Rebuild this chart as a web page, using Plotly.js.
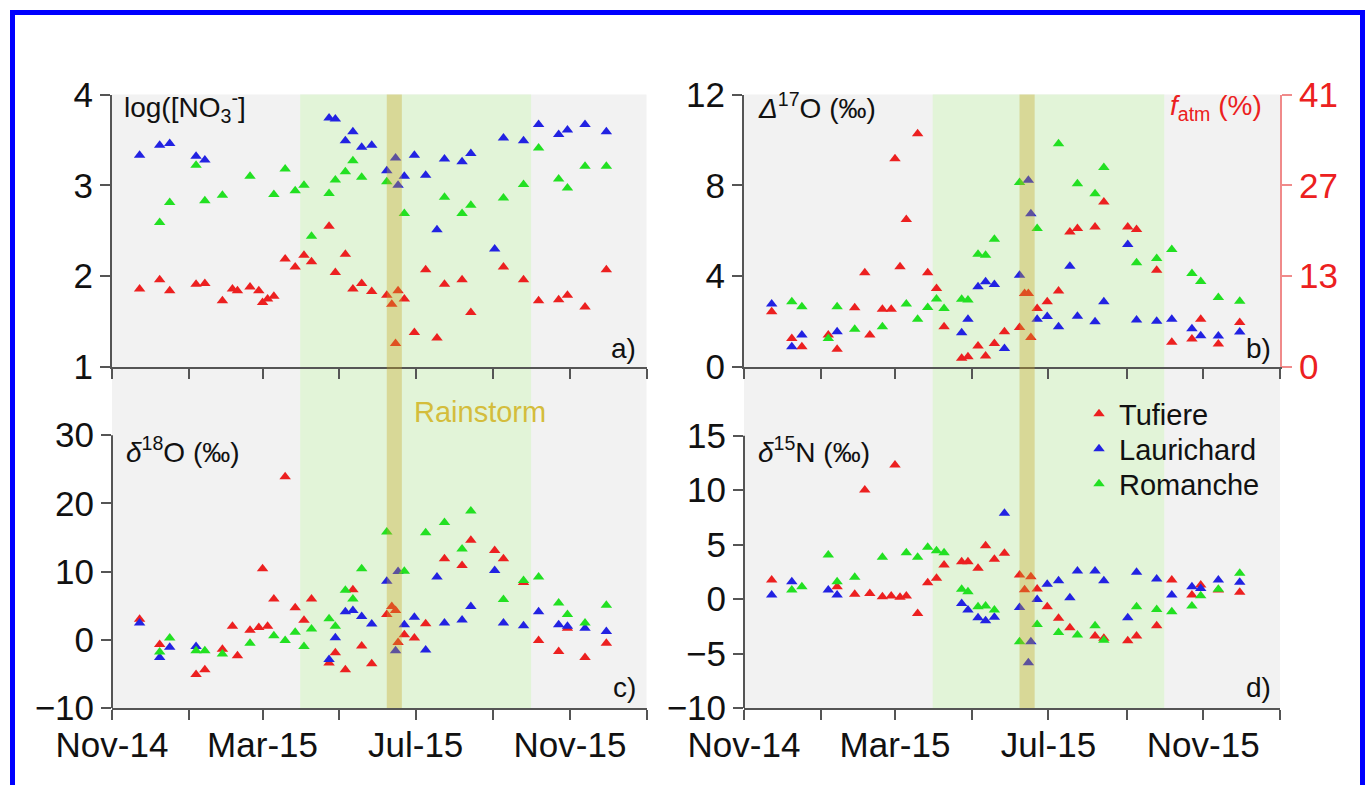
<!DOCTYPE html>
<html>
<head>
<meta charset="utf-8">
<script src="https://cdn.plot.ly/plotly-3.0.1.min.js"></script>
<style>
html,body{margin:0;padding:0;background:#fff;}
#chart{width:1369px;height:785px;}
</style>
</head>
<body>
<div id="chart"></div>
<script>
// Sampling dates (shared by all sites and panels)
const dates = ['2014-11-23','2014-12-09','2014-12-17','2015-01-07','2015-01-14','2015-01-28','2015-02-05','2015-02-09','2015-02-19','2015-02-26',
  '2015-03-01','2015-03-05','2015-03-10','2015-03-19','2015-03-27','2015-04-03','2015-04-09','2015-04-23','2015-04-28','2015-05-06',
  '2015-05-12','2015-05-19','2015-05-27','2015-06-08','2015-06-12','2015-06-15','2015-06-17','2015-06-22','2015-06-30','2015-07-09',
  '2015-07-18','2015-07-24','2015-08-07','2015-08-14','2015-09-02','2015-09-09','2015-09-25','2015-10-07','2015-10-23','2015-10-30',
  '2015-11-13','2015-11-30'];
const sites = ['Tufiere','Laurichard','Romanche'];

// a) log([NO3-])
const tufA = [1.86,1.96,1.84,1.91,1.92,1.73,1.86,1.84,1.88,1.84, 1.71,1.75,1.78,2.19,2.10,2.23,2.16,2.55,2.04,2.24, 1.86,1.92,1.83,1.79,1.69,1.26,1.84,1.75,1.38,2.07, 1.32,1.91,1.96,1.60,null,2.10,1.96,1.73,1.74,1.79, 1.66,2.07];
const lauA = [3.33,3.44,3.46,3.32,3.28,null,null,null,null,null, null,null,null,null,null,null,null,3.74,3.73,3.49, 3.59,3.42,3.44,3.16,null,3.30,3.00,3.10,3.33,3.11, 2.51,3.29,3.26,3.35,2.30,3.52,3.49,3.67,3.56,3.61, 3.67,3.59];
const romA = [null,2.59,2.81,3.22,2.83,2.89,null,null,3.10,null, null,null,2.90,3.18,2.94,3.00,2.44,2.91,3.06,3.15, 3.27,3.09,null,3.04,null,null,null,2.69,null,null, null,2.87,2.69,2.78,null,2.86,3.01,3.41,3.07,2.97, 3.21,3.21];

// b) Δ17O (‰)
const tufB = [2.43,1.26,0.89,1.41,0.78,2.61,4.15,1.41,2.54,2.54, 9.17,4.41,6.49,10.27,4.15,3.46,1.77,0.38,0.45,0.92, 0.48,1.04,1.55,1.74,3.24,3.24,1.30,2.58,2.87,3.35, 5.95,6.10,6.17,7.27,6.17,6.05,4.26,1.09,1.23,2.10, 1.01,1.96];
const lauB = [2.77,0.89,1.41,null,1.55,null,null,null,null,null, null,null,null,null,null,null,null,1.51,2.10,3.53, 3.75,3.63,0.82,4.04,null,8.22,6.75,2.10,2.22,1.77, 4.44,2.24,1.99,2.87,5.39,2.07,2.02,2.10,1.68,1.38, 1.36,1.54];
const romB = [null,2.87,2.65,1.26,2.65,1.66,null,null,1.77,null, null,null,2.77,2.10,2.62,2.99,2.58,2.98,2.95,4.97, 4.92,5.63,null,8.12,null,null,null,6.10,null,9.83, null,8.07,7.63,8.78,null,4.59,4.78,5.17,4.12,3.77, 3.06,2.90];

// c) δ18O (‰)
const tufC = [3.0,-0.7,null,-5.1,-4.4,-1.4,2.0,-2.35,1.4,1.8, 10.4,2.0,6.0,23.9,4.7,2.85,6.0,-3.4,-1.9,-4.4, 7.35,-0.9,-3.5,3.7,4.9,4.3,-0.4,0.75,0.25,2.35, null,11.9,10.9,14.6,13.1,11.9,8.4,-0.1,-1.7,1.7, -2.6,-0.5];
const lauC = [2.45,-2.6,-1.1,-1.0,null,null,null,null,null,null, null,null,null,null,null,null,null,-2.9,0.3,4.1, 4.3,3.4,2.3,8.6,null,-1.6,10.0,2.2,3.3,-1.5, 9.2,2.45,2.9,4.9,10.15,2.45,2.05,4.1,2.2,2.0, 1.7,1.2];
const romC = [null,-1.8,0.25,-1.6,-1.6,-2.1,null,null,-0.5,null, null,null,0.6,-0.1,1.1,-1.0,1.6,3.1,2.0,7.25, 6.0,10.4,null,15.8,null,null,null,10.05,null,15.7, null,17.2,13.3,18.9,null,5.9,8.7,9.2,5.4,3.7, 2.45,5.05];

// d) δ15N (‰)
const tufD = [1.75,null,null,null,1.13,0.43,10.0,0.52,0.21,0.28, 12.3,0.16,0.28,-1.32,1.5,1.9,3.12,3.43,3.43,2.82, 4.9,3.65,4.2,2.2,0.86,null,2.05,0.92,-0.71,-1.77, -2.63,null,-3.4,-3.6,-3.83,-3.4,-2.45,1.75,0.37,1.29, 0.83,0.62];
const lauD = [0.37,1.59,null,0.83,0.37,null,null,null,null,null, null,null,null,null,null,null,null,-0.4,-1.0,-1.72, -1.99,-1.68,7.88,-0.77,null,-5.85,-3.92,-0.03,1.35,1.68, 0.12,2.57,2.57,1.68,-1.72,2.45,1.84,0.37,1.13,0.98, 1.75,1.54];
const romD = [null,0.83,1.13,4.04,1.59,1.99,null,null,3.83,null, null,null,4.26,3.83,4.75,4.44,4.26,0.89,0.67,-0.71, -0.64,-1.0,null,-3.92,null,null,null,-2.33,null,-3.06, null,-3.31,-2.45,-3.77,null,-0.71,-0.95,-1.17,-0.64,0.3, 0.89,2.36];

// Axis ticks
const xTickVals = ['2014-11-01','2015-03-01','2015-07-01','2015-11-01'];
const xTickText = ['Nov-14','Mar-15','Jul-15','Nov-15'];
const xMinorTickVals = ['2015-01-01','2015-05-01','2015-09-01','2016-01-01'];
const fatmTickText = ['0','13','27','41'];

// Periods
const growingSeason = ['2015-03-31','2015-10-01'];
const rainstorm = ['2015-06-08','2015-06-20'];

const colors = ['#ec2020','#2222e2','#22e022'];
const legendIds = ['legend','legend2','legend3'];
const panels = [
  {vals:[tufA,lauA,romA], xa:'x',  ya:'y'},
  {vals:[tufB,lauB,romB], xa:'x2', ya:'y2'},
  {vals:[tufC,lauC,romC], xa:'x3', ya:'y3'},
  {vals:[tufD,lauD,romD], xa:'x4', ya:'y4'}
];

const traces = [];
panels.forEach((p, pi) => {
  p.vals.forEach((v, si) => {
    traces.push({
      type:'scatter', mode:'markers', x:dates, y:v, xaxis:p.xa, yaxis:p.ya,
      name:sites[si], legendgroup:sites[si], showlegend: pi === 3, legend: legendIds[si],
      marker:{symbol:'triangle-up', size:10, color:colors[si], line:{width:0}},
      hoverinfo:'x+y+name'
    });
  });
});
// right-hand f_atm axis carrier
traces.push({type:'scatter', mode:'markers', x:[], y:[], xaxis:'x2', yaxis:'y5', showlegend:false, hoverinfo:'skip'});

const FONT = 'Liberation Sans, Arial, Helvetica, sans-serif';
const axCol = '#555';
const tickFont = {family:FONT, size:35, color:'#111'};
const xRange = ['2014-11-01','2016-01-01'];
const L = [112/1369, 646.5/1369], R = [744/1369, 1280/1369];
const T = [1-367/785, 1-94.5/785], B = [1-708/785, 1-367/785];

function xax(dom, anchor, labels){
  return {domain:dom, anchor:anchor, type:'date', range:xRange, tickvals:xTickVals, ticktext:xTickText,
    showticklabels:labels, tickfont:tickFont, ticks:'outside', ticklen:10, tickwidth:2, tickcolor:axCol,
    ticklabelstandoff:-5,
    minor:{tickvals:xMinorTickVals, ticks:'outside', ticklen:10, tickwidth:2, tickcolor:axCol, showgrid:false},
    showline:true, linecolor:axCol, linewidth:2, showgrid:false, zeroline:false};
}
function yax(dom, anchor, range, tv, line){
  return {domain:dom, anchor:anchor, range:range, tickvals:tv, tickfont:tickFont, ticks:'outside', ticklen:10,
    tickwidth:2, tickcolor:axCol, showline:line, linecolor:axCol, linewidth:2, showgrid:false, zeroline:false};
}

const shapes = [];
[['x','y'],['x2','y2'],['x3','y3'],['x4','y4']].forEach(([xa,ya]) => {
  shapes.push({type:'rect', xref:xa, yref:ya+' domain', x0:growingSeason[0], x1:growingSeason[1], y0:0, y1:1,
    fillcolor:'#e2f4d8', line:{width:0}, layer:'below'});
  shapes.push({type:'rect', xref:xa, yref:ya+' domain', x0:rainstorm[0], x1:rainstorm[1], y0:0, y1:1,
    fillcolor:'rgba(200,165,35,0.36)', line:{width:0}, layer:'above'});
});
// partial y axis lines (span of tick range only)
shapes.push({type:'line', xref:'x3 domain', yref:'y3', x0:0, x1:0, y0:-10, y1:30, line:{color:axCol, width:2}});
shapes.push({type:'line', xref:'x4 domain', yref:'y4', x0:0, x1:0, y0:-10, y1:15, line:{color:axCol, width:2}});
// blue frame
shapes.push({type:'rect', xref:'paper', yref:'paper', x0:12.5/1369, x1:1362.5/1369, y0:-0.05, y1:1-12.5/785,
  line:{color:'#0000ff', width:5}, fillcolor:'rgba(0,0,0,0)', layer:'above'});

function ann(text, px, py, anchor, extra){
  return Object.assign({text:text, x:px/1369, y:1-py/785, xref:'paper', yref:'paper', xanchor:anchor, yanchor:'middle',
    showarrow:false, font:{family:FONT, size:28, color:'#111'}}, extra||{});
}
const annotations = [
  ann('log([NO<sub>3</sub><sup>-</sup>]', 122, 107, 'left'),
  ann('<i>Δ</i><sup>17</sup>O (‰)', 756, 106, 'left'),
  ann('<i>f</i><sub>atm</sub> (%)', 1264, 108, 'right', {font:{family:FONT, size:28, color:'#ec2020'}}),
  ann('<i>δ</i><sup>18</sup>O (‰)', 124, 450, 'left'),
  ann('<i>δ</i><sup>15</sup>N (‰)', 756, 450, 'left'),
  ann('a)', 638, 348, 'right'),
  ann('b)', 1273, 348, 'right'),
  ann('c)', 638, 687, 'right'),
  ann('d)', 1273, 687, 'right'),
  ann('Rainstorm', 412, 412, 'left', {font:{family:FONT, size:29, color:'#d4bd3c'}})
];

function leg(py){
  return {x:1079/1369, y:1-py/785, xanchor:'left', yanchor:'middle', bgcolor:'rgba(0,0,0,0)',
    font:{family:FONT, size:29, color:'#111'}, itemclick:false};
}

const layout = {
  width:1369, height:785, margin:{l:0, r:0, t:0, b:0},
  paper_bgcolor:'#ffffff', plot_bgcolor:'#f2f2f2',
  font:{family:FONT, size:28, color:'#111'},
  showlegend:true,
  legend:leg(414), legend2:leg(449), legend3:leg(484),
  xaxis: xax(L,'y',false),
  xaxis2: xax(R,'y2',false),
  xaxis3: xax(L,'y3',true),
  xaxis4: xax(R,'y4',true),
  yaxis: yax(T,'x',[1,4],[1,2,3,4],true),
  yaxis2: yax(T,'x2',[0,12],[0,4,8,12],true),
  yaxis3: yax(B,'x3',[-10,40],[-10,0,10,20,30],false),
  yaxis4: yax(B,'x4',[-10,21.3],[-10,-5,0,5,10,15],false),
  yaxis5: {overlaying:'y2', side:'right', anchor:'x2', range:[0,41], tickvals:[0,41/3,82/3,41], ticktext:fatmTickText,
    tickfont:{family:FONT, size:35, color:'#ec2020'}, ticks:'outside', ticklen:10, tickwidth:2, tickcolor:'#f08a8a',
    showline:true, linecolor:'#f08a8a', linewidth:2, showgrid:false, zeroline:false},
  shapes:shapes,
  annotations:annotations
};

Plotly.newPlot('chart', traces, layout, {displayModeBar:false, staticPlot:true});
</script>
</body>
</html>
